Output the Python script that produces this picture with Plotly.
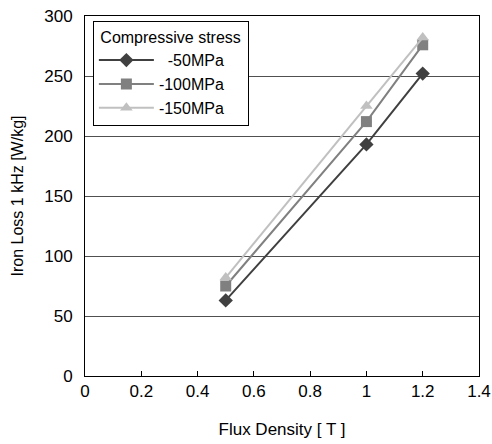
import plotly.graph_objects as go

flux = [0.5, 1.0, 1.2]
loss_50 = [63, 193, 252]
loss_100 = [75, 212, 276]
loss_150 = [82, 225, 282]
names = ["\u00a0\u00a0-50MPa", "-100MPa", "-150MPa"]
colors = ["#404040", "#808080", "#c0c0c0"]
symbols = ["diamond", "square", "triangle-up"]
x_ticks = [0, 0.2, 0.4, 0.6, 0.8, 1.0, 1.2, 1.4]
x_tick_text = ["0", "0.2", "0.4", "0.6", "0.8", "1", "1.2", "1.4"]

fig = go.Figure()
for name, ys, c, s in zip(names, [loss_50, loss_100, loss_150], colors, symbols):
    fig.add_trace(go.Scatter(x=flux, y=ys, mode="lines+markers", name=name,
                             line=dict(color=c, width=2),
                             marker=dict(symbol=s, size=11, color=c)))

font = dict(family="Liberation Sans", size=16, color="black")
fig.update_layout(
    width=492, height=444,
    margin=dict(l=85, r=13, t=16, b=68),
    paper_bgcolor="white", plot_bgcolor="white",
    font=font,
    showlegend=True,
    legend=dict(title=dict(text="\u00a0Compressive stress\u00a0",
                           font=dict(size=16)),
                x=0.02, y=0.985, xanchor="left", yanchor="top",
                bgcolor="white", bordercolor="black", borderwidth=1,
                font=dict(size=16), itemwidth=55, tracegroupgap=0),
    xaxis=dict(range=[0, 1.4], showgrid=False, automargin=False,
               ticks="inside", ticklen=5, tickcolor="black",
               showline=True, linecolor="black", linewidth=1, mirror=True,
               zeroline=False, tickfont=dict(size=17),
               tickvals=x_ticks, ticktext=x_tick_text,
               title=dict(text="Flux Density [ T ]", font=dict(size=17),
                          standoff=22)),
    yaxis=dict(range=[0, 300], dtick=50, showgrid=True, gridcolor="#505050",
               gridwidth=1, ticks="", showline=True, linecolor="black",
               linewidth=1, mirror=True, zeroline=False, automargin=False,
               ticklabelstandoff=8, tickfont=dict(size=17),
               title=dict(text="Iron Loss 1 kHz [W/kg]", font=dict(size=16),
                          standoff=16)),
)
fig.write_html("out.html", config={"displayModeBar": False},
               post_script="document.body.style.margin='0';")
